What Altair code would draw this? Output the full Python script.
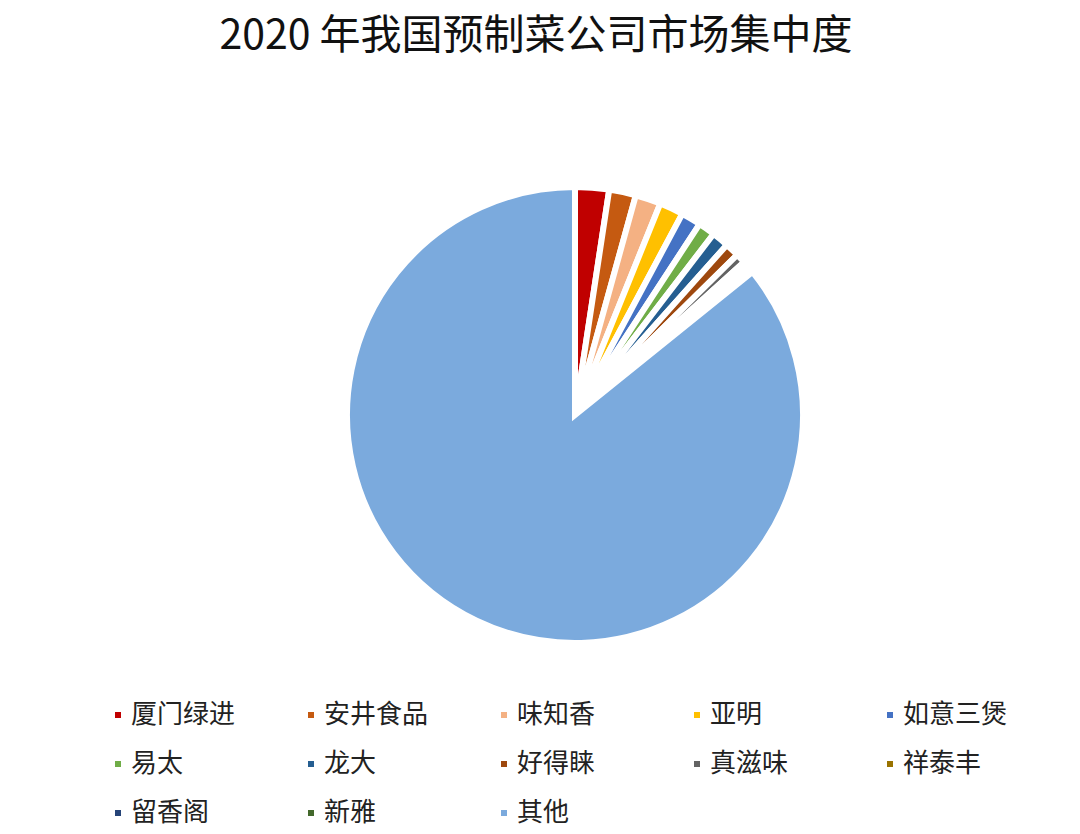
import altair as alt
import pandas as pd

companies = ["厦门绿进", "安井食品", "味知香", "亚明", "如意三煲", "易太",
             "龙大", "好得睐", "真滋味", "祥泰丰", "留香阁", "新雅", "其他"]
shares = [2.4, 1.9, 1.8, 1.7, 1.4, 1.2, 1.2, 1.0, 0.7, 0.4, 0.3, 0.2, 85.8]
colors = ["#C00000", "#C55A11", "#F4B183", "#FFC000", "#4472C4", "#70AD47",
          "#255E91", "#9E480E", "#636363", "#997300", "#264478", "#43682B",
          "#7BAADD"]

df = pd.DataFrame({"公司": companies, "份额": shares, "序号": list(range(len(companies)))})

chart = alt.Chart(df).mark_arc(
    radius=228, stroke="white", strokeWidth=6
).encode(
    theta=alt.Theta("份额:Q", stack=True),
    order=alt.Order("序号:Q"),
    color=alt.Color(
        "公司:N",
        scale=alt.Scale(domain=companies, range=colors),
        sort=companies,
        legend=alt.Legend(
            title=None, orient="none", legendX=92, legendY=624,
            direction="horizontal", columns=5, symbolType="square",
            symbolSize=36, symbolStrokeWidth=0, symbolOffset=5,
            labelFontSize=26,
            labelFont="Noto Sans CJK SC", labelColor="#222222",
            labelOffset=0, columnPadding=57, rowPadding=23,
            gridAlign="all", padding=0, labelLimit=300
        ),
    ),
    x=alt.value(567),
    y=alt.value(337),
).properties(
    width=1064,
    height=748,
    padding={"left": 0, "top": 70, "right": 0, "bottom": 8},
    autosize=alt.AutoSizeParams(type="none"),
    title=alt.TitleParams(
        "2020 年我国预制菜公司市场集中度",
        font="Noto Sans CJK SC", fontSize=41, fontWeight="normal",
        color="#111111", anchor="middle", offset=20, dx=-4,
    ),
).configure_view(stroke=None)

chart.save("out.html", embed_options={"renderer": "svg", "actions": False})
